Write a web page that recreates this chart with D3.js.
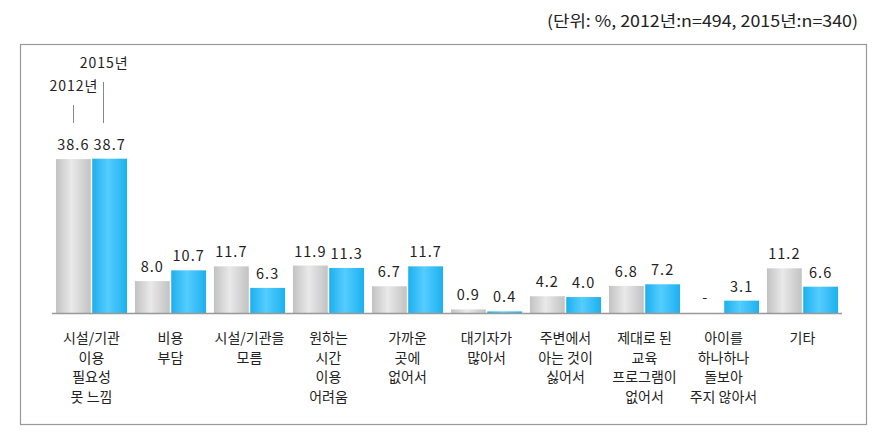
<!DOCTYPE html>
<html><head><meta charset="utf-8">
<script src="https://cdn.jsdelivr.net/npm/d3@7"></script>
<style>body{margin:0;background:#fff}svg{display:block}</style>
</head><body>
<svg id="c" width="883" height="433"></svg>
<script>
const categories = [
  "시설/기관\n이용\n필요성\n못 느낌", "비용\n부담", "시설/기관을\n모름", "원하는\n시간\n이용\n어려움",
  "가까운\n곳에\n없어서", "대기자가\n많아서", "주변에서\n아는 것이\n싫어서",
  "제대로 된\n교육\n프로그램이\n없어서", "아이를\n하나하나\n돌보아\n주지 않아서", "기타"
];
const seriesNames = ["2012년", "2015년"];
const values2012 = [38.6, 8.0, 11.7, 11.9, 6.7, 0.9, 4.2, 6.8, null, 11.2];
const values2015 = [38.7, 10.7, 6.3, 11.3, 11.7, 0.4, 4.0, 7.2, 3.1, 6.6];
const unitNote = "(단위: %, 2012년:n=494, 2015년:n=340)";

const svg = d3.select("#c");
const font = "'Noto Sans CJK KR', 'Noto Sans', sans-serif";
const defs = svg.append("defs");
function grad(id, edge, mid) {
  const g = defs.append("linearGradient").attr("id", id).attr("x1", "0%").attr("x2", "100%").attr("y1", "0%").attr("y2", "0%");
  g.append("stop").attr("offset", "0%").attr("stop-color", edge);
  g.append("stop").attr("offset", "45%").attr("stop-color", mid);
  g.append("stop").attr("offset", "100%").attr("stop-color", edge);
}
grad("gGray", "#c2c2c2", "#e9e9e9");
grad("gBlue", "#1cb0ee", "#55cdff");
const fills = ["url(#gGray)", "url(#gBlue)"];

// frame
svg.append("rect").attr("x", 20.5).attr("y", 44.5).attr("width", 846).attr("height", 380)
  .attr("fill", "none").attr("stroke", "#999").attr("stroke-width", 1.2);

svg.append("text").attr("x", 858).attr("y", 27).attr("text-anchor", "end")
  .attr("font-family", font).attr("font-size", 16).attr("fill", "#222")
  .attr("textLength", 311).attr("lengthAdjust", "spacingAndGlyphs").text(unitNote);

const x0 = d3.scaleBand().domain(categories).range([52, 842]).paddingInner(0.1).paddingOuter(0.05);
const x1 = d3.scaleBand().domain(seriesNames).range([0, x0.bandwidth()]).paddingInner(0.04);
const y = d3.scaleLinear().domain([0, 40]).range([313, 153.5]);

const data = categories.map((c, i) => ({ c, vals: [values2012[i], values2015[i]] }));

const groups = svg.append("g").selectAll("g").data(data).join("g")
  .attr("transform", d => `translate(${x0(d.c)},0)`);

groups.selectAll("rect").data(d => d.vals.map((v, k) => ({ v, k })).filter(e => e.v != null)).join("rect")
  .attr("x", e => x1(seriesNames[e.k])).attr("width", x1.bandwidth())
  .attr("y", e => y(e.v)).attr("height", e => y(0) - y(e.v))
  .attr("fill", e => fills[e.k]);

groups.selectAll("text.val").data(d => d.vals.map((v, k) => ({ v, k }))).join("text")
  .attr("class", "val")
  .attr("x", e => x1(seriesNames[e.k]) + x1.bandwidth() / 2)
  .attr("y", e => (e.v == null ? y(0) - 10 : y(e.v) - 9))
  .attr("text-anchor", "middle").attr("font-family", font).attr("font-size", 14.5)
  .attr("letter-spacing", 1).attr("fill", "#222")
  .text(e => e.v == null ? "-" : e.v.toFixed(1));

// axis baseline
svg.append("line").attr("x1", 52).attr("x2", 842).attr("y1", y(0) + 0.5).attr("y2", y(0) + 0.5)
  .attr("stroke", "#999").attr("stroke-width", 1.3);

// category labels
svg.append("g").selectAll("text").data(categories).join("text")
  .attr("x", d => x0(d) + x0.bandwidth() / 2).attr("y", 343)
  .attr("text-anchor", "middle").attr("font-family", font).attr("font-size", 14).attr("fill", "#222")
  .selectAll("tspan").data(d => d.split("\n")).join("tspan")
  .attr("x", function () { return d3.select(this.parentNode).attr("x"); })
  .attr("dy", (d, i) => i === 0 ? 0 : 19.5).text(d => d);

// series callouts
const c0 = x0(categories[0]);
const callY = [91, 68];
const lineTop = [105, 82];
const lineShift = [0, -7];
const textShift = [25, 19];
seriesNames.forEach((s, k) => {
  const cx = c0 + x1(s) + x1.bandwidth() / 2;
  const lx = Math.round(cx + lineShift[k]) + 0.5;
  svg.append("line").attr("x1", lx).attr("x2", lx).attr("y1", lineTop[k]).attr("y2", 123)
    .attr("stroke", "#888").attr("stroke-width", 1);
  svg.append("text").attr("x", cx + textShift[k]).attr("y", callY[k]).attr("text-anchor", "end")
    .attr("font-family", font).attr("font-size", 14).attr("letter-spacing", 1).attr("fill", "#222").text(s);
});
</script>
</body></html>
